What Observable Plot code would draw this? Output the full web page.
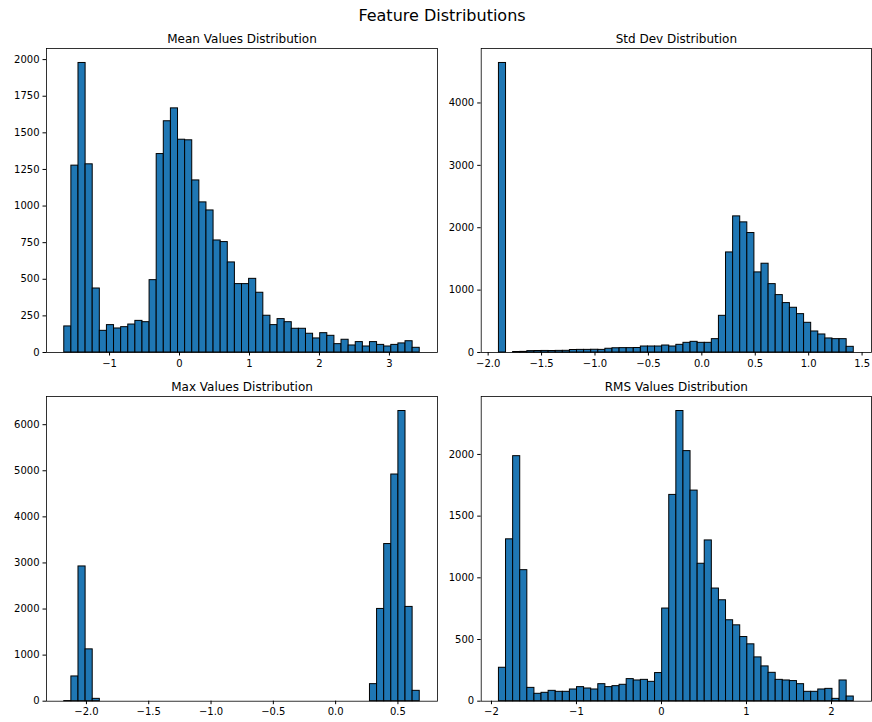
<!DOCTYPE html>
<html>
<head>
<meta charset="utf-8">
<script src="https://cdn.jsdelivr.net/npm/d3@7"></script>
<script src="https://cdn.jsdelivr.net/npm/@observablehq/plot@0.6"></script>
<style>
  html, body { margin: 0; padding: 0; background: white; }
  #chart { position: relative; width: 872px; height: 722px; background: white; font-family: "DejaVu Sans", sans-serif; }
  #suptitle { position: absolute; left: 442px; top: 7.5px; transform: translateX(-50%); font-size: 16px; line-height: 16px; white-space: nowrap; color: black; }
  #chart svg { position: absolute; overflow: visible; background: transparent; }
</style>
</head>
<body>
<div id="chart"><div id="suptitle">Feature Distributions</div></div>
<script>
// ---- Data (histogram counts, 50 bins each, and the data range covered by the bins) ----
const meanTitle = "Mean Values Distribution";
const meanRange = [-1.647, 3.433];
const meanCounts = [178,1276,1977,1285,437,148,187,164,173,191,
                    216,207,494,1355,1579,1667,1453,1449,1175,1025,
                    970,765,754,615,467,467,503,408,251,187,
                    228,207,162,162,128,96,132,114,57,87,
                    48,71,41,71,52,41,52,62,77,32];
const meanXTicks = [-1, 0, 1, 2, 3];
const meanYTicks = [0, 250, 500, 750, 1000, 1250, 1500, 1750, 2000];

const stdTitle = "Std Dev Distribution";
const stdRange = [-1.899, 1.422];
const stdCounts = [4641,0,8,10,22,24,25,24,26,27,
                   40,42,42,44,42,60,68,70,70,72,
                   96,96,96,112,96,123,155,171,155,155,
                   214,588,1604,2182,2086,1915,1284,1423,1096,920,
                   792,717,615,476,337,289,225,214,214,91];
const stdXTicks = [-2.0, -1.5, -1.0, -0.5, 0.0, 0.5, 1.0, 1.5];
const stdYTicks = [0, 1000, 2000, 3000, 4000];

const maxTitle = "Max Values Distribution";
const maxRange = [-2.178, 0.675];
const maxCounts = [3,537,2924,1125,51,0,0,0,0,0,
                   0,0,0,0,0,0,0,0,0,0,
                   0,0,0,0,0,0,0,0,0,0,
                   0,0,0,0,0,0,0,0,0,0,
                   0,0,0,370,2002,3410,4919,6297,2046,225];
const maxXTicks = [-2.0, -1.5, -1.0, -0.5, 0.0, 0.5];
const maxYTicks = [0, 1000, 2000, 3000, 4000, 5000, 6000];

const rmsTitle = "RMS Values Distribution";
const rmsRange = [-1.912, 2.262];
const rmsCounts = [271,1312,1986,1062,108,60,68,84,76,76,
                   95,114,103,95,138,114,122,133,179,168,
                   173,157,228,751,1672,2352,2027,1707,1114,1303,
                   913,818,656,615,520,461,355,282,230,173,
                   168,163,138,76,76,95,100,19,168,38];
const rmsXTicks = [-2, -1, 0, 1, 2];
const rmsYTicks = [0, 500, 1000, 1500, 2000];

// ---- Drawing ----
function panel(cfg) {
  const {counts, range, xticks, yticks, xfmt, title, width, height, ml, mr, mt, mb, left, top} = cfg;
  const n = counts.length;
  const step = (range[1] - range[0]) / n;
  const bins = counts.map((c, i) => ({x1: range[0] + i * step, x2: range[0] + (i + 1) * step, y: c}));
  const pad = 0.05 * (range[1] - range[0]);
  const ymax = 1.05 * d3.max(counts);
  const svg = Plot.plot({
    width, height,
    marginLeft: ml, marginRight: mr, marginTop: mt, marginBottom: mb,
    style: {fontFamily: "DejaVu Sans", fontSize: "10px", color: "black", background: "transparent", overflow: "visible"},
    x: {domain: [range[0] - pad, range[1] + pad]},
    y: {domain: [0, ymax]},
    marks: [
      Plot.rectY(bins, {x1: "x1", x2: "x2", y1: 0, y2: "y", fill: "#1f77b4", stroke: "black", strokeWidth: 1}),
      Plot.frame({stroke: "black", strokeWidth: 0.8}),
      Plot.axisX({ticks: xticks, tickFormat: xfmt, tickSize: 3.5, tickPadding: 3.5, label: null, fontSize: 10}),
      Plot.axisY({ticks: yticks, tickFormat: d3.format("d"), tickSize: 3.5, tickPadding: 3.5, label: null, fontSize: 10}),
      Plot.text([title], {frameAnchor: "top", dy: -6, lineAnchor: "bottom", fontSize: 12, fill: "black"})
    ]
  });
  svg.style.left = left + "px";
  svg.style.top = top + "px";
  document.getElementById("chart").appendChild(svg);
}

const fInt = d3.format("d");
const f1 = d3.format(".1f");

panel({counts: meanCounts, range: meanRange, xticks: meanXTicks, yticks: meanYTicks, xfmt: fInt, title: meanTitle,
       left: 0, top: 26, width: 440, height: 346, ml: 46, mr: 3, mt: 22, mb: 20});
panel({counts: stdCounts, range: stdRange, xticks: stdXTicks, yticks: stdYTicks, xfmt: f1, title: stdTitle,
       left: 436, top: 26, width: 436, height: 346, ml: 44.7, mr: 1, mt: 22, mb: 20});
panel({counts: maxCounts, range: maxRange, xticks: maxXTicks, yticks: maxYTicks, xfmt: f1, title: maxTitle,
       left: 0, top: 372, width: 440, height: 350, ml: 46, mr: 3, mt: 24, mb: 21.3});
panel({counts: rmsCounts, range: rmsRange, xticks: rmsXTicks, yticks: rmsYTicks, xfmt: fInt, title: rmsTitle,
       left: 436, top: 372, width: 436, height: 350, ml: 44.7, mr: 1, mt: 24, mb: 21.3});
</script>
</body>
</html>
